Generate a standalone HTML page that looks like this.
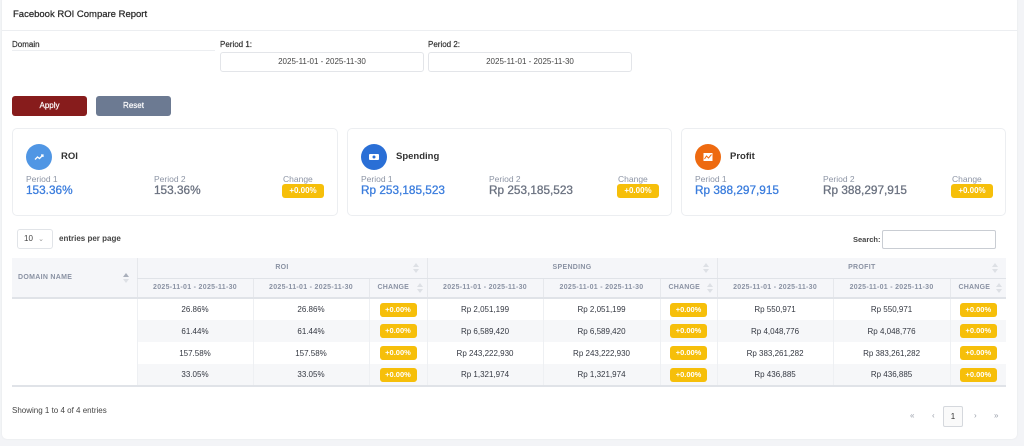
<!DOCTYPE html>
<html><head><meta charset="utf-8"><style>
*{box-sizing:border-box;margin:0;padding:0}
body{width:1024px;height:446px;background:#f3f4f7;font-family:"Liberation Sans",sans-serif;position:relative;overflow:hidden;color:#333}
.card{position:absolute;left:2px;top:-4px;width:1015px;height:443px;background:#fff;border-radius:5px;box-shadow:0 0 2px rgba(0,0,0,.06)}
.abs{position:absolute;white-space:nowrap}
.title{left:13px;top:9px;font-size:9.5px;color:#2b2b2b;-webkit-text-stroke:0.25px #2b2b2b}
.hline{position:absolute;left:2px;width:1015px;top:30px;height:1px;background:#eceef1}
.lbl{font-size:8px;color:#333;top:40px;-webkit-text-stroke:0.2px #333}
.input{position:absolute;top:52px;height:20px;border:1px solid #e3e5e9;border-radius:3px;font-size:8px;color:#444;text-align:center;line-height:18px}
.btn{position:absolute;top:96px;height:20px;width:75px;border-radius:3px;color:#fff;font-size:8px;text-align:center;line-height:20px;-webkit-text-stroke:0.2px #fff}
.stat{position:absolute;top:128px;height:88px;border:1px solid #eceef1;border-radius:5px;background:#fff}
.ic{position:absolute;left:13px;top:15px;width:26px;height:26px;border-radius:50%}
.ic svg{position:absolute;left:7px;top:7px}
.sname{position:absolute;left:48px;top:22px;font-size:9.5px;color:#333;font-weight:bold}
.pl{position:absolute;top:45px;font-size:8.5px;color:#8d95a5}
.pv{position:absolute;top:54px;font-size:11.8px;white-space:nowrap}
.b1{color:#3b7ddd;-webkit-text-stroke:0.3px #3b7ddd}
.b2{color:#6b7280;-webkit-text-stroke:0.3px #6b7280}
.badge{background:#f6bf0a;color:#fff;font-weight:bold;border-radius:3px;text-align:center}
.sbadge{position:absolute;top:55px;width:42px;height:14px;font-size:8px;line-height:14px}
table{position:absolute;left:12px;top:258px;border-collapse:collapse;table-layout:fixed;width:994px}
th{background:#f5f6f9;color:#8a92a3;font-size:7px;font-weight:bold;letter-spacing:.3px;height:20px;border-left:1px solid #e6e8ec;position:relative;text-align:center}
th.g{border-bottom:1px solid #e0e3e8}
tr.sub th{border-bottom:2px solid #e0e3e8}
th.ch{text-align:left;padding-left:8px;letter-spacing:.2px}
th.dom{text-align:left;padding-left:6px;border-left:none;border-bottom:2px solid #e0e3e8}
td{height:22px;font-size:8px;color:#343842;text-align:center;border-left:1px solid #eef0f3}
tr.s td{background:#f6f7f9}
td.dc{background:#fff!important;border-left:none}
tbody tr:last-child td{border-bottom:2px solid #e0e3e8}
.tb{display:inline-block;width:37px;height:14px;font-size:7.5px;line-height:14px;vertical-align:middle}
.sort{position:absolute;right:8px;top:50%;margin-top:-5px;width:6px;height:10px}
.sort:before{content:"";position:absolute;left:0;top:0;border-left:3px solid transparent;border-right:3px solid transparent;border-bottom:4px solid #dde0e5}
.sort:after{content:"";position:absolute;left:0;bottom:0;border-left:3px solid transparent;border-right:3px solid transparent;border-top:4px solid #dde0e5}
.sort.up:before{border-bottom-color:#a9afbb}
.pg{position:absolute;top:411px;font-size:8px;color:#9aa0ab}
</style></head><body>
<div class="card"></div>
<div class="abs title">Facebook ROI Compare Report</div>
<div class="hline"></div>

<div class="abs lbl" style="left:12px">Domain</div>
<div style="position:absolute;left:12px;top:50px;width:203px;height:1px;background:#eceef1"></div>
<div class="abs lbl" style="left:220px">Period 1:</div>
<div class="input" style="left:220px;width:204px">2025-11-01 - 2025-11-30</div>
<div class="abs lbl" style="left:428px">Period 2:</div>
<div class="input" style="left:428px;width:204px">2025-11-01 - 2025-11-30</div>

<div class="btn" style="left:12px;background:#871c1c">Apply</div>
<div class="btn" style="left:96px;background:#6c7a92;width:75px">Reset</div>

<div class="stat" style="left:12px;width:326px">
  <div class="ic" style="background:#5096e4"><svg width="12" height="12" viewBox="0 0 12 12"><polyline points="2,8.5 4.5,6 6.5,7.5 10,4" fill="none" stroke="#fff" stroke-width="1.3"/><polyline points="8,4 10,4 10,6" fill="none" stroke="#fff" stroke-width="1.2"/></svg></div>
  <div class="sname">ROI</div>
  <div class="pl" style="left:13px">Period 1</div><div class="pv b1" style="left:13px">153.36%</div>
  <div class="pl" style="left:141px">Period 2</div><div class="pv b2" style="left:141px">153.36%</div>
  <div class="pl" style="left:270px">Change</div><div class="badge sbadge" style="left:269px">+0.00%</div>
</div>
<div class="stat" style="left:347px;width:325px">
  <div class="ic" style="background:#2a6fd6"><svg width="12" height="12" viewBox="0 0 12 12"><rect x="1" y="3" width="10" height="6" rx="1" fill="#fff"/><circle cx="6" cy="6" r="1.5" fill="#2a6fd6"/></svg></div>
  <div class="sname">Spending</div>
  <div class="pl" style="left:13px">Period 1</div><div class="pv b1" style="left:13px">Rp 253,185,523</div>
  <div class="pl" style="left:141px">Period 2</div><div class="pv b2" style="left:141px">Rp 253,185,523</div>
  <div class="pl" style="left:270px">Change</div><div class="badge sbadge" style="left:269px">+0.00%</div>
</div>
<div class="stat" style="left:681px;width:325px">
  <div class="ic" style="background:#ee6a10"><svg width="12" height="12" viewBox="0 0 12 12"><rect x="1.5" y="2" width="9" height="8" fill="#fff"/><polyline points="2.5,8 4.5,5 6.5,7 9.5,3.5" fill="none" stroke="#ee6a10" stroke-width="1"/></svg></div>
  <div class="sname">Profit</div>
  <div class="pl" style="left:13px">Period 1</div><div class="pv b1" style="left:13px">Rp 388,297,915</div>
  <div class="pl" style="left:141px">Period 2</div><div class="pv b2" style="left:141px">Rp 388,297,915</div>
  <div class="pl" style="left:270px">Change</div><div class="badge sbadge" style="left:269px">+0.00%</div>
</div>

<div style="position:absolute;left:17px;top:229px;width:36px;height:20px;border:1px solid #e1e4e8;border-radius:3px;font-size:8px;color:#444;line-height:18px;padding-left:6px">10 <span style="color:#999;font-size:7px;margin-left:3px">&#8964;</span></div>
<div class="abs" style="left:59px;top:234px;font-size:8px;font-weight:bold;color:#444">entries per page</div>
<div class="abs" style="left:853px;top:235px;font-size:7.5px;font-weight:bold;color:#444">Search:</div>
<div style="position:absolute;left:882px;top:230px;width:114px;height:19px;border:1px solid #c9cdd3;border-radius:2px"></div>

<table>
<colgroup><col style="width:125px"><col style="width:116px"><col style="width:116px"><col style="width:58px"><col style="width:116px"><col style="width:117px"><col style="width:57px"><col style="width:116px"><col style="width:117px"><col style="width:56px"></colgroup>
<thead>
<tr><th class="dom" rowspan="2">DOMAIN NAME<span class="sort up"></span></th><th class="g" colspan="3">ROI<span class="sort"></span></th><th class="g" colspan="3">SPENDING<span class="sort"></span></th><th class="g" colspan="3">PROFIT<span class="sort"></span></th></tr>
<tr class="sub"><th>2025-11-01 - 2025-11-30</th><th>2025-11-01 - 2025-11-30</th><th class="ch">CHANGE<span class="sort" style="right:4px"></span></th><th>2025-11-01 - 2025-11-30</th><th>2025-11-01 - 2025-11-30</th><th class="ch">CHANGE<span class="sort" style="right:4px"></span></th><th>2025-11-01 - 2025-11-30</th><th>2025-11-01 - 2025-11-30</th><th class="ch">CHANGE<span class="sort" style="right:4px"></span></th></tr>
</thead>
<tbody>
<tr><td class="dc"></td><td>26.86%</td><td>26.86%</td><td><span class="badge tb">+0.00%</span></td><td>Rp 2,051,199</td><td>Rp 2,051,199</td><td><span class="badge tb">+0.00%</span></td><td>Rp 550,971</td><td>Rp 550,971</td><td><span class="badge tb">+0.00%</span></td></tr>
<tr class="s"><td class="dc"></td><td>61.44%</td><td>61.44%</td><td><span class="badge tb">+0.00%</span></td><td>Rp 6,589,420</td><td>Rp 6,589,420</td><td><span class="badge tb">+0.00%</span></td><td>Rp 4,048,776</td><td>Rp 4,048,776</td><td><span class="badge tb">+0.00%</span></td></tr>
<tr><td class="dc"></td><td>157.58%</td><td>157.58%</td><td><span class="badge tb">+0.00%</span></td><td>Rp 243,222,930</td><td>Rp 243,222,930</td><td><span class="badge tb">+0.00%</span></td><td>Rp 383,261,282</td><td>Rp 383,261,282</td><td><span class="badge tb">+0.00%</span></td></tr>
<tr class="s"><td class="dc"></td><td>33.05%</td><td>33.05%</td><td><span class="badge tb">+0.00%</span></td><td>Rp 1,321,974</td><td>Rp 1,321,974</td><td><span class="badge tb">+0.00%</span></td><td>Rp 436,885</td><td>Rp 436,885</td><td><span class="badge tb">+0.00%</span></td></tr>
</tbody>
</table>

<div class="abs" style="left:12px;top:406px;font-size:8px;color:#444">Showing 1 to 4 of 4 entries</div>
<div class="pg" style="left:910px">&laquo;</div>
<div class="pg" style="left:932px">&lsaquo;</div>
<div style="position:absolute;left:943px;top:406px;width:20px;height:21px;border:1px solid #d5d8dd;border-radius:2px;background:#fafafa;font-size:8px;color:#333;text-align:center;line-height:19px">1</div>
<div class="pg" style="left:974px">&rsaquo;</div>
<div class="pg" style="left:994px">&raquo;</div>
</body></html>
